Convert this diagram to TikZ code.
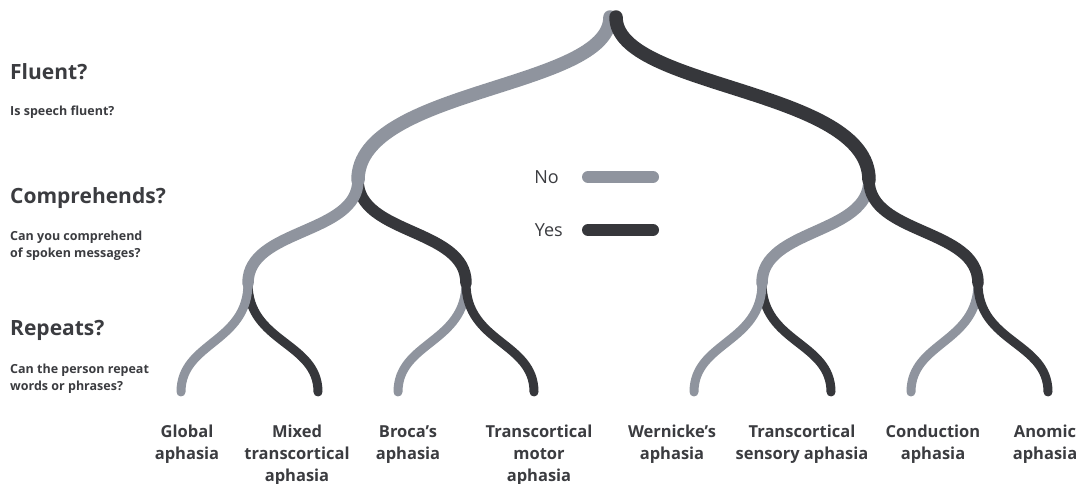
\documentclass[tikz,border=0pt]{standalone}
\usepackage{fontspec}
\setmainfont{Open Sans}
\definecolor{nocol}{HTML}{8F949E}
\definecolor{yescol}{HTML}{36373B}
\definecolor{txt}{HTML}{3B3C40}
\begin{document}
\begin{tikzpicture}[x=1pt,y=-1pt,
  nobranch/.style={draw=nocol,line cap=round},
  yesbranch/.style={draw=yescol,line cap=round},
  lvlzero/.style={line width=13.5pt},
  lvlone/.style={line width=11.5pt},
  lvltwo/.style={line width=9pt},
  head/.style={font=\fontsize{21}{25}\selectfont\bfseries,text=txt,anchor=base west,inner sep=0pt},
  sub/.style={font=\fontsize{12.5}{17.5}\selectfont\bfseries,text=txt,anchor=base west,inner sep=0pt},
  leaf/.style={font=\fontsize{16.5}{22}\selectfont\bfseries,text=txt,anchor=base,inner sep=0pt},
  legtext/.style={font=\fontsize{18}{22}\selectfont,text=txt,anchor=base east,inner sep=0pt}]
\useasboundingbox[fill=white] (0,0) rectangle (1081,484);

% branch points
\coordinate (rg) at (610,17);
\coordinate (ry) at (616,17);
\coordinate (a) at (358,180);
\coordinate (b) at (869,180);
\coordinate (a1) at (248,283);
\coordinate (a2) at (466,283);
\coordinate (b1) at (762,283);
\coordinate (b2) at (978,283);
% leaf ends
\coordinate (l1) at (181,392);
\coordinate (l2) at (318,392);
\coordinate (l3) at (398,392);
\coordinate (l4) at (534,392);
\coordinate (l5) at (694,392);
\coordinate (l6) at (831,392);
\coordinate (l7) at (911,392);
\coordinate (l8) at (1048,392);

% third level: repeats?
\draw[yesbranch,lvltwo] (a1) .. controls +(0,60) and +(0,-50) .. (l2);
\draw[nobranch,lvltwo]  (a1) .. controls +(0,60) and +(0,-50) .. (l1);
\draw[nobranch,lvltwo]  (a2) .. controls +(0,60) and +(0,-50) .. (l3);
\draw[yesbranch,lvltwo] (a2) .. controls +(0,60) and +(0,-50) .. (l4);
\draw[yesbranch,lvltwo] (b1) .. controls +(0,60) and +(0,-50) .. (l6);
\draw[nobranch,lvltwo]  (b1) .. controls +(0,60) and +(0,-50) .. (l5);
\draw[nobranch,lvltwo]  (b2) .. controls +(0,60) and +(0,-50) .. (l7);
\draw[yesbranch,lvltwo] (b2) .. controls +(0,60) and +(0,-50) .. (l8);

% second level: comprehends?
\draw[yesbranch,lvlone] (a) .. controls +(0,55) and +(0,-55) .. (a2);
\draw[nobranch,lvlone]  (a) .. controls +(0,55) and +(0,-55) .. (a1);
\draw[nobranch,lvlone]  (b) .. controls +(0,55) and +(0,-55) .. (b1);
\draw[yesbranch,lvlone] (b) .. controls +(0,55) and +(0,-55) .. (b2);

% first level: fluent?
\draw[nobranch,lvlzero]  (rg) .. controls +(0,72) and +(0,-92) .. (a);
\draw[yesbranch,lvlzero] (ry) .. controls +(0,72) and +(0,-92) .. (b);

% legend
\node[legtext] (lno) at (559,183) {No};
\node[legtext] (lyes) at (563,236) {Yes};
\coordinate (nos) at (588,177);
\coordinate (noe) at (653,177);
\coordinate (yess) at (588,230);
\coordinate (yese) at (653,230);
\draw[nobranch,line width=12pt] (nos) -- (noe);
\draw[yesbranch,line width=12pt] (yess) -- (yese);

% questions
\node[head] (hflu) at (10,80) {Fluent?};
\node[sub] (sflu) at (10,116) {Is speech fluent?};
\node[head] (hcom) at (10,203) {Comprehends?};
\node[sub] (scom) at (10,240) {\begin{tabular}[t]{@{}l@{}}Can you comprehend\\of spoken messages?\end{tabular}};
\node[head] (hrep) at (10,335) {Repeats?};
\node[sub] (srep) at (10,373) {\begin{tabular}[t]{@{}l@{}}Can the person repeat\\words or phrases?\end{tabular}};

% outcomes
\node[leaf] (t1) at (187,437) {\begin{tabular}[t]{@{}c@{}}Global\\aphasia\end{tabular}};
\node[leaf] (t2) at (297,437) {\begin{tabular}[t]{@{}c@{}}Mixed\\transcortical\\aphasia\end{tabular}};
\node[leaf] (t3) at (408,437) {\begin{tabular}[t]{@{}c@{}}Broca’s\\aphasia\end{tabular}};
\node[leaf] (t4) at (539,437) {\begin{tabular}[t]{@{}c@{}}Transcortical\\motor\\aphasia\end{tabular}};
\node[leaf] (t5) at (672,437) {\begin{tabular}[t]{@{}c@{}}Wernicke’s\\aphasia\end{tabular}};
\node[leaf] (t6) at (802,437) {\begin{tabular}[t]{@{}c@{}}Transcortical\\sensory aphasia\end{tabular}};
\node[leaf] (t7) at (933,437) {\begin{tabular}[t]{@{}c@{}}Conduction\\aphasia\end{tabular}};
\node[leaf] (t8) at (1045,437) {\begin{tabular}[t]{@{}c@{}}Anomic\\aphasia\end{tabular}};
\end{tikzpicture}
\end{document}
